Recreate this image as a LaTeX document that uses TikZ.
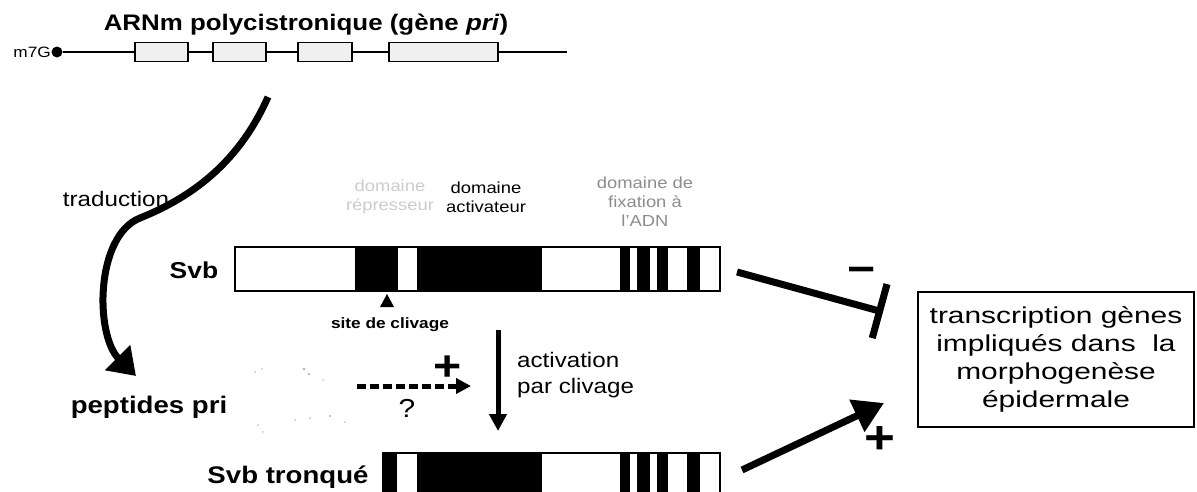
\documentclass[tikz,border=0pt]{standalone}
\usepackage{fontspec}
\setmainfont{Liberation Sans}[FakeStretch=1.15]
\newfontfamily\boxfont{Liberation Sans}[FakeStretch=1.3]
\usetikzlibrary{arrows.meta}
\newcommand\fsz[2]{\fontsize{#1}{#2}\selectfont}
\begin{document}
\begin{tikzpicture}[x=1pt,y=-1pt,
  lbl/.style={inner sep=0pt, align=center},
  orf/.style={draw, line width=1.1pt, fill=gray!12, minimum height=19pt, inner sep=0pt},
  protbar/.style={draw, line width=1.2pt, minimum height=44pt, inner sep=0pt},
  thick arrow/.style={line width=7pt},
  faded/.style={text=black!20},
  fadedmid/.style={text=black!45}]
\useasboundingbox (0,0) rectangle (1197,491);
\clip (0,0) rectangle (1197,491);

% polycistronic mRNA
\node[lbl, font=\bfseries\fsz{22.5}{26}] (title) at (306,25) {ARNm polycistronique (gène \textit{pri})};
\node[lbl, font=\fsz{15}{17}, anchor=east] (cap) at (51,52) {m7G};
\node[circle, fill, inner sep=0pt, minimum size=11pt] (capdot) at (57,52) {};
\coordinate (mend) at (567,52);
\draw[line width=1.1pt] (capdot) -- (mend);
\node[orf, minimum width=53pt] (orf1) at (161.5,52) {};
\node[orf, minimum width=53pt] (orf2) at (239.5,52) {};
\node[orf, minimum width=54pt] (orf3) at (325,52) {};
\node[orf, minimum width=109pt] (orf4) at (443.5,52) {};

% translation
\coordinate (trA) at (268,97);
\coordinate (trB) at (136,376);
\draw[thick arrow, -{Triangle[length=26pt,width=34pt]}]
  (trA) .. controls (240,160) and (195,196) .. (140,218)
        .. controls (95,236) and (95,335) .. (trB);
\node[lbl, font=\fsz{21}{25}] (trad) at (116,199) {traduction};

% full-length Svb
\node[lbl, font=\bfseries\fsz{23}{27}] (svb) at (194,270) {Svb};
\node[protbar, minimum width=485pt] (svbbar) at (477.5,269) {};
\foreach \a/\b in {355/398, 417/542, 620/630, 637/650, 657/668, 687/700}
  \fill (\a,247) rectangle (\b,291);
\node[protbar, minimum width=485pt] at (svbbar) {};

\node[lbl, faded, font=\fsz{16}{19}] (repr) at (390,197) {domaine\\répresseur};
\node[lbl, font=\fsz{16}{19}] (activ) at (486,197) {domaine\\activateur};
\node[lbl, fadedmid, font=\fsz{16}{19}] (fix) at (645,202) {domaine de\\fixation à\\l'ADN};

% cleavage site
\fill (387,294) -- (394,307) -- (380,307) -- cycle;
\node[lbl, font=\bfseries\fsz{15}{18}] (site) at (390,325) {site de clivage};

% activation by cleavage
\coordinate (actA) at (498,330);
\coordinate (actB) at (498,431);
\draw[line width=5pt, -{Triangle[length=17pt,width=17pt]}] (actA) -- (actB);
\node[lbl, font=\fsz{21}{26}, align=left, anchor=west] (act) at (517,375) {activation\\par clivage};

% pri peptides
\node[lbl, font=\bfseries\fsz{24}{28}] (pep) at (149,407) {peptides pri};
\foreach \p/\r in {(255,372)/0.9, (262,369)/0.8, (304,369)/1.6, (309,374)/1.3, (323,380)/0.8,
                   (258,425)/0.9, (263,432)/0.8, (295,420)/0.9, (310,418)/1.0, (330,416)/1.1, (345,422)/0.8}
  \fill[gray!55] \p circle (\r pt);
\coordinate (dA) at (357,386);
\coordinate (dB) at (471,386);
\draw[line width=5pt, dash pattern=on 9pt off 4pt, -{Triangle[length=15pt,width=15pt]}] (dA) -- (dB);
\node[lbl, font=\bfseries\fsz{42}{42}] (plusA) at (448,368) {+};
\node[lbl, font=\fsz{26}{30}] (q) at (407,408) {?};

% truncated Svb
\node[lbl, font=\bfseries\fsz{24}{28}] (svbt) at (288,477) {Svb tronqué};
\node[protbar, minimum width=337pt] (tbar) at (551.5,475) {};
\foreach \a/\b in {383/397, 417/542, 620/630, 637/650, 657/668, 687/700}
  \fill (\a,453) rectangle (\b,497);
\node[protbar, minimum width=337pt] at (tbar) {};

% target genes
\node[draw, line width=1.3pt, minimum width=276pt, minimum height=135pt, inner sep=0pt,
      font=\boxfont\fsz{23}{28}, align=center] (target) at (1056,359.5)
  {transcription gènes\\impliqués dans \ la\\morphogenèse\\épidermale};

\coordinate (inhA) at (737,272);
\coordinate (inhB) at (883,312);
\draw[thick arrow, -{Bar[width=56pt]}] (inhA) -- (inhB);
\node[lbl, font=\bfseries\fsz{42}{42}] (minus) at (862,275) {−};

\coordinate (posA) at (742,470);
\coordinate (posB) at (884,403);
\draw[thick arrow, -{Triangle[length=30pt,width=34pt]}] (posA) -- (posB);
\node[lbl, font=\bfseries\fsz{46}{46}] (plusB) at (880,440) {+};
\end{tikzpicture}
\end{document}
